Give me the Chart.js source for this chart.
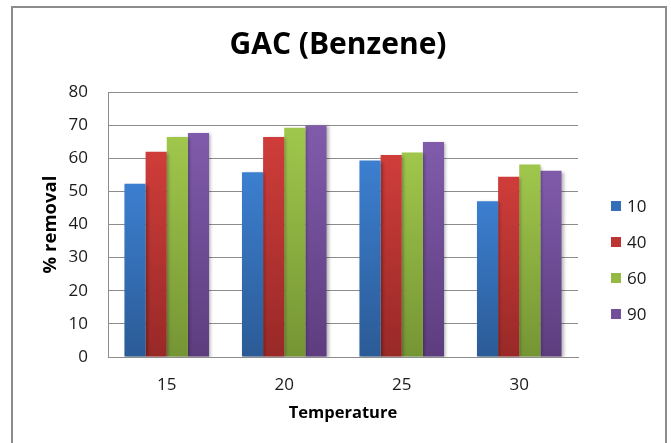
<!DOCTYPE html>
<html>
<head>
<meta charset="utf-8">
<script src="https://cdn.jsdelivr.net/npm/chart.js@4.4.1/dist/chart.umd.min.js"></script>
<style>
  html, body { margin: 0; padding: 0; background: #ffffff; }
  #wrap { width: 671px; height: 443px; position: relative; }
</style>
</head>
<body>
<div id="wrap"><canvas id="c" width="671" height="443"></canvas></div>
<script>
// Temperatures on the category axis
const temperatures = ['15', '20', '25', '30'];
// Contact-time series names
const seriesNames = ['10', '40', '60', '90'];
// % removal for each series, one value per temperature
const removal10 = [52.3, 55.8, 59.3, 47.0];
const removal40 = [62.0, 66.4, 61.0, 54.4];
const removal60 = [66.4, 69.2, 61.7, 58.1];
const removal90 = [67.6, 69.9, 64.9, 56.2];
// y-axis tick values
const yTicks = [0, 10, 20, 30, 40, 50, 60, 70, 80];

const FONT = '"Open Sans", "Noto Sans", sans-serif';

const palettes = [
  { top: 'rgb(60,127,208)', bottom: 'rgb(43,91,150)', swatch: 'rgb(52,110,184)' },
  { top: 'rgb(207,61,58)', bottom: 'rgb(152,41,39)', swatch: 'rgb(190,52,50)' },
  { top: 'rgb(160,199,76)', bottom: 'rgb(117,149,52)', swatch: 'rgb(148,185,68)' },
  { top: 'rgb(128,91,171)', bottom: 'rgb(93,61,126)', swatch: 'rgb(113,79,153)' }
];
const seriesValues = [removal10, removal40, removal60, removal90];

// Vertical light-to-dark fill for each bar
function barGradient(i) {
  return function (ctx) {
    const chart = ctx.chart;
    const y = chart.scales && chart.scales.y;
    if (!chart.chartArea || !y || ctx.raw === undefined) return palettes[i].swatch;
    const top = y.getPixelForValue(ctx.raw);
    const bottom = y.getPixelForValue(0);
    const g = chart.ctx.createLinearGradient(0, top, 0, bottom);
    g.addColorStop(0, palettes[i].top);
    g.addColorStop(1, palettes[i].bottom);
    return g;
  };
}

// Outer frame around the whole chart
const framePlugin = {
  id: 'frame',
  beforeDraw(chart) {
    const c = chart.ctx;
    c.save();
    c.strokeStyle = '#8c8c8c';
    c.lineWidth = 2;
    c.strokeRect(12, 7, 654, 460);
    c.restore();
  }
};

// Soft shadow behind the bars
const shadowPlugin = {
  id: 'barShadow',
  beforeDatasetDraw(chart) {
    const c = chart.ctx;
    c.save();
    c.shadowColor = 'rgba(0,0,0,0.28)';
    c.shadowBlur = 3;
    c.shadowOffsetX = 2;
    c.shadowOffsetY = 1;
  },
  afterDatasetDraw(chart) {
    chart.ctx.restore();
  }
};

// Legend stacked in the space on the right
const sideLegend = {
  id: 'sideLegend',
  afterDraw(chart) {
    const c = chart.ctx;
    const x0 = chart.chartArea.right + 33;
    const y0 = 206, step = 36;
    c.save();
    c.font = '17px ' + FONT;
    c.textBaseline = 'middle';
    chart.data.datasets.forEach((ds, i) => {
      const yy = y0 + i * step;
      c.fillStyle = palettes[i].swatch;
      c.fillRect(x0, yy - 5, 10, 10);
      c.fillStyle = '#1a1a1a';
      c.fillText(ds.label, x0 + 16, yy + 1);
    });
    c.restore();
  }
};

const datasets = seriesNames.map((name, i) => ({
  label: name,
  data: seriesValues[i],
  backgroundColor: barGradient(i),
  borderWidth: 0,
  categoryPercentage: 0.72,
  barPercentage: 1.0
}));

new Chart(document.getElementById('c'), {
  type: 'bar',
  data: { labels: temperatures, datasets: datasets },
  plugins: [framePlugin, shadowPlugin, sideLegend],
  options: {
    responsive: false,
    animation: false,
    devicePixelRatio: 1,
    layout: { padding: { left: 5, right: 0, top: 0, bottom: 0 } },
    plugins: {
      legend: { display: false },
      tooltip: { enabled: false },
      title: {
        display: true,
        text: 'GAC (Benzene)',
        color: '#000000',
        font: { family: FONT, size: 30, weight: 'bold', lineHeight: 1.2 },
        padding: { top: 27, bottom: 29 }
      }
    },
    scales: {
      x: {
        grid: { display: false, drawTicks: false },
        border: { display: true, color: '#8c8c8c', width: 1 },
        ticks: {
          color: '#1a1a1a',
          padding: 18,
          font: { family: FONT, size: 17 }
        },
        title: {
          display: true,
          text: 'Temperature',
          color: '#000000',
          font: { family: FONT, size: 16.5, weight: 'bold', lineHeight: 1.2 },
          padding: { top: 0, bottom: 20 }
        },
        afterFit(scale) { scale.height = 86; }
      },
      y: {
        min: yTicks[0],
        max: yTicks[yTicks.length - 1],
        afterBuildTicks(scale) { scale.ticks = yTicks.map(v => ({ value: v })); },
        grid: { color: '#8c8c8c', lineWidth: 1, drawTicks: false },
        border: { display: true, color: '#8c8c8c', width: 1 },
        ticks: {
          color: '#1a1a1a',
          padding: 20,
          font: { family: FONT, size: 17 }
        },
        title: {
          display: true,
          text: '% removal',
          color: '#000000',
          font: { family: FONT, size: 18.5, weight: 'bold', lineHeight: 1.2 },
          padding: { top: 35, bottom: 4 }
        },
        afterFit(scale) { scale.width = 103; }
      },
      // empty right-hand axis that keeps room for the legend
      legendSpace: {
        type: 'linear',
        position: 'right',
        display: true,
        grid: { display: false, drawOnChartArea: false, drawTicks: false },
        border: { display: false },
        ticks: { display: false },
        afterFit(scale) { scale.width = 93; }
      }
    }
  }
});
</script>
</body>
</html>
